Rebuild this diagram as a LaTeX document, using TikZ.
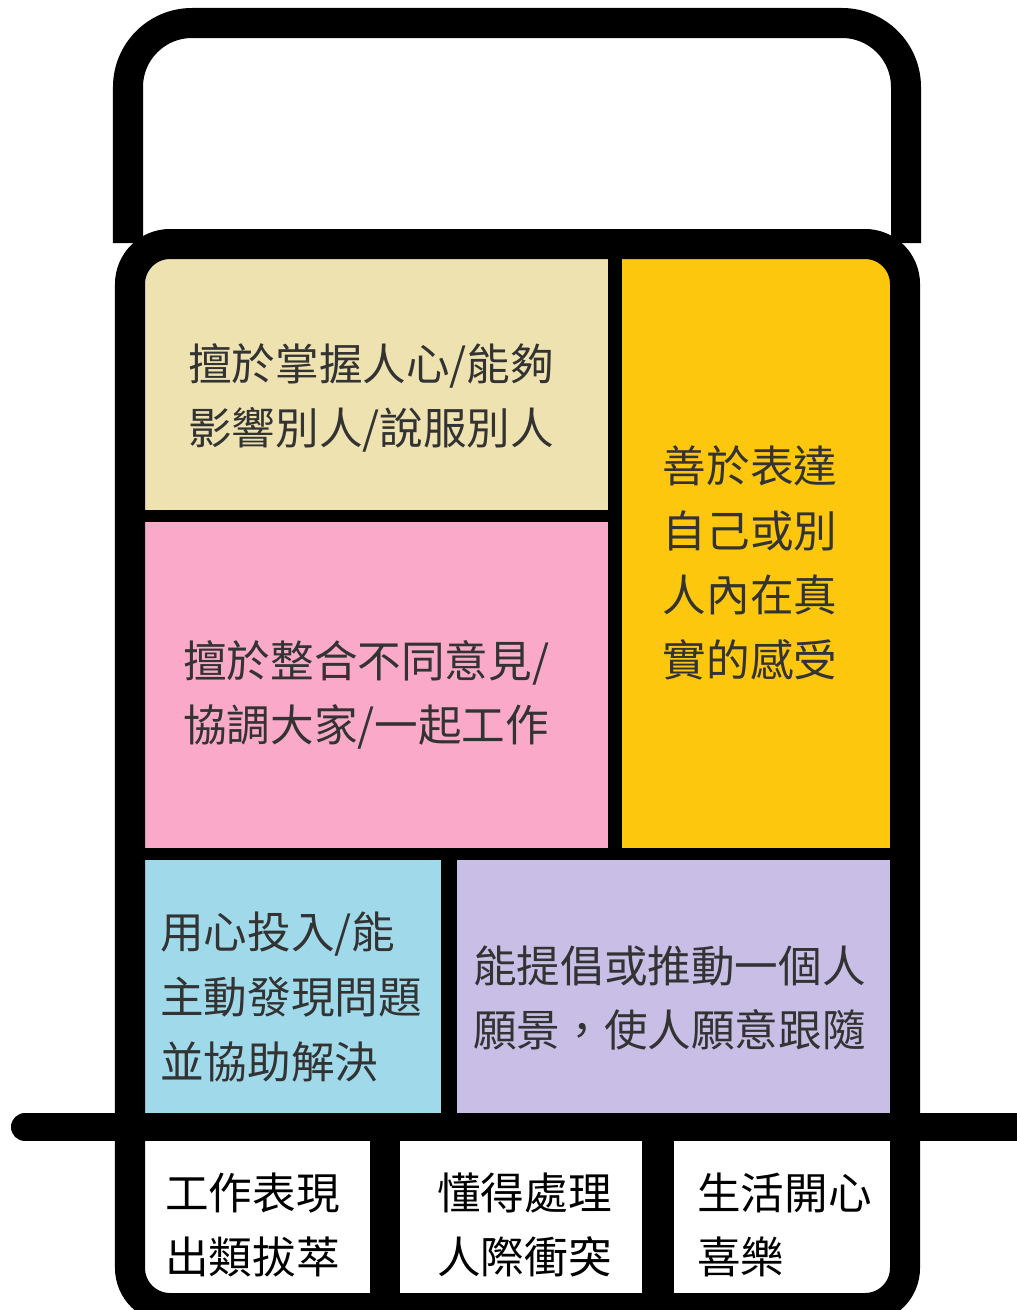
\documentclass[tikz,border=0pt]{standalone}
\usepackage{fontspec}
\newfontfamily\cjk{Noto Sans CJK TC}
\usetikzlibrary{positioning}
\definecolor{beige}{HTML}{EEE3B0}
\definecolor{gold}{HTML}{FDC70E}
\definecolor{rose}{HTML}{FAAAC8}
\definecolor{sky}{HTML}{A0DAEA}
\definecolor{lilac}{HTML}{C9BEE5}
\definecolor{ink}{HTML}{333333}
\tikzset{font=\cjk\fontsize{31}{46}\selectfont}
\tikzset{
	frame/.style={draw=black, line width=0.75cm},
	bar/.style={draw=black, line width=0.33cm},
	txt/.style={align=left, inner sep=0pt, text=ink},
}

\begin{document}
\begin{tikzpicture}[x=0.025cm, y=-0.025cm]
	\clip (0,0) rectangle (1017,1310);
	\fill[white] (0,0) rectangle (1017,1310);

	% coloured fields
	\begin{scope}
		\clip[rounded corners=1cm] (130,244) rectangle (905,1308);
		\fill[beige] (130,244) rectangle (615,516);
		\fill[gold] (615,244) rectangle (905,854);
		\fill[rose] (130,516) rectangle (615,854);
		\fill[sky] (130,854) rectangle (449,1127);
		\fill[lilac] (449,854) rectangle (905,1127);
	\end{scope}

	% frame
	\draw[frame, rounded corners=1.6cm] (128,243) -- (128,23) -- (906,23) -- (906,243);
	\draw[frame, rounded corners=1cm] (130,244) rectangle (905,1308);
	\draw[bar] (615,250) -- (615,860);
	\draw[bar, line width=0.3cm] (140,516) -- (615,516);
	\draw[bar, line width=0.3cm] (140,854) -- (895,854);
	\draw[bar, line width=0.4cm] (449,854) -- (449,1120);
	\draw[frame, line width=0.7cm, line cap=round] (25,1127) -- (1040,1127);
	\draw[frame] (385,1127) -- (385,1300);
	\draw[frame, line width=0.8cm] (658,1127) -- (658,1300);

	% labels
	\node[txt, anchor=west] (infl) at (188,398) {擅於掌握人心/能夠\\影響別人/說服別人};
	\node[txt, align=center] (expr) at (750,563) {善於表達\\自己或別\\人內在真\\實的感受};
	\node[txt, anchor=west] (intg) at (183,695) {擅於整合不同意見/\\協調大家/一起工作};
	\node[txt, anchor=west] (invl) at (160,997) {用心投入/能\\主動發現問題\\並協助解決};
	\node[txt, anchor=west] (visn) at (473,998) {能提倡或推動一個人\\願景，使人願意跟隨};
	\node[txt, anchor=west, text=black] (perf) at (165,1225) {工作表現\\出類拔萃};
	\node[txt, anchor=west, text=black] (conf) at (437,1225) {懂得處理\\人際衝突};
	\node[txt, anchor=west, text=black] (joy) at (697,1225) {生活開心\\喜樂};
\end{tikzpicture}
\end{document}
